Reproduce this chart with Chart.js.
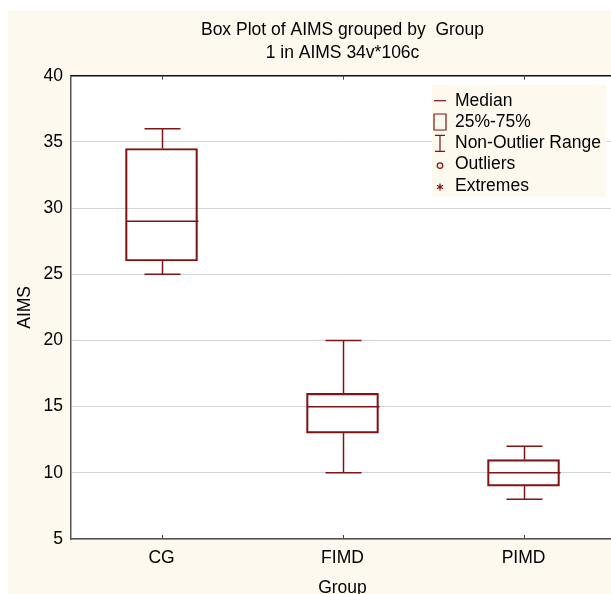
<!DOCTYPE html>
<html>
<head>
<meta charset="utf-8">
<script src="https://cdn.jsdelivr.net/npm/chart.js@4.4.1/dist/chart.umd.min.js"></script>
<style>
  html, body { margin: 0; padding: 0; background: #fff; overflow: hidden; }
  #frame { position: absolute; left: 8px; top: 11px; width: 603px; height: 583px; overflow: hidden; background: #fef9ee; }
  #box { position: relative; width: 606px; height: 592px; }
</style>
</head>
<body>
<div id="frame"><div id="box"><canvas id="myChart"></canvas></div></div>
<script>
const groups = ['CG', 'FIMD', 'PIMD'];
const minValues = [25, 10, 8];
const q1Values = [26, 13, 9];
const medianValues = [29, 15, 10];
const q3Values = [34.5, 16, 11];
const maxValues = [36, 20, 12];
const legendLabels = ['Median', '25%-75%', 'Non-Outlier Range', 'Outliers', 'Extremes'];

const boxColor = '#7f1416';
const font = 'Liberation Sans, Arial, sans-serif';
const fontSize = 17.5;

const ctx = document.getElementById('myChart').getContext('2d');

// white plot area, whiskers, medians, inward ticks, legend
const boxPlugin = {
    id: 'boxPlugin',
    beforeDraw(chart) {
        const a = chart.chartArea;
        const c = chart.ctx;
        c.save();
        c.fillStyle = '#fff';
        c.fillRect(a.left, a.top, a.right - a.left, a.bottom - a.top);
        c.restore();
    },
    afterDatasetsDraw(chart) {
        const c = chart.ctx;
        const x = chart.scales.x;
        const y = chart.scales.y;
        const a = chart.chartArea;
        c.save();
        c.strokeStyle = boxColor;
        c.lineWidth = 1.5;
        groups.forEach((g, i) => {
            const cx = Math.round(x.getPixelForValue(i)) + 0.5;
            const line = (x1, y1, x2, y2) => {
                c.beginPath(); c.moveTo(x1, y1); c.lineTo(x2, y2); c.stroke();
            };
            const yMin = y.getPixelForValue(minValues[i]);
            const yMax = y.getPixelForValue(maxValues[i]);
            const yQ1 = y.getPixelForValue(q1Values[i]);
            const yQ3 = y.getPixelForValue(q3Values[i]);
            const yMed = y.getPixelForValue(medianValues[i]);
            line(cx, yQ1, cx, yMin);
            line(cx, yQ3, cx, yMax);
            line(cx - 18, yMin, cx + 18, yMin);
            line(cx - 18, yMax, cx + 18, yMax);
            line(cx - 36, yMed, cx + 36, yMed);
        });
        // top border
        c.strokeStyle = '#111';
        c.lineWidth = 1.5;
        c.beginPath(); c.moveTo(a.left, a.top); c.lineTo(a.right, a.top); c.stroke();
        // inward ticks
        c.strokeStyle = '#444';
        c.lineWidth = 1;
        groups.forEach((g, i) => {
            const cx = Math.round(x.getPixelForValue(i)) + 0.5;
            c.beginPath(); c.moveTo(cx, a.top); c.lineTo(cx, a.top + 4); c.stroke();
            c.beginPath(); c.moveTo(cx, a.bottom); c.lineTo(cx, a.bottom - 4); c.stroke();
        });
        c.restore();
    },
    afterDraw(chart) {
        const c = chart.ctx;
        const a = chart.chartArea;
        const x0 = a.right - 182;
        const y0 = a.top + 9;
        c.save();
        c.fillStyle = '#fef9ee';
        c.fillRect(x0, y0, 174, 112);
        c.font = fontSize + 'px ' + font;
        c.textBaseline = 'middle';
        c.strokeStyle = boxColor;
        c.lineWidth = 1.2;
        legendLabels.forEach((t, k) => {
            const ty = y0 + 16 + k * 21.3;
            const sx = x0 + 8;
            c.beginPath();
            if (k === 0) {
                c.moveTo(sx - 6, ty); c.lineTo(sx + 6, ty);
            } else if (k === 1) {
                c.rect(sx - 6, ty - 8, 12, 16);
            } else if (k === 2) {
                c.moveTo(sx, ty - 8); c.lineTo(sx, ty + 8);
                c.moveTo(sx - 5, ty - 8); c.lineTo(sx + 5, ty - 8);
                c.moveTo(sx - 5, ty + 8); c.lineTo(sx + 5, ty + 8);
            } else if (k === 3) {
                c.arc(sx, ty + 1, 2.8, 0, Math.PI * 2);
            } else {
                for (let r = 0; r < 3; r++) {
                    const ang = r * Math.PI / 3 + Math.PI / 2;
                    c.moveTo(sx - 3.5 * Math.cos(ang), ty + 1 - 3.5 * Math.sin(ang));
                    c.lineTo(sx + 3.5 * Math.cos(ang), ty + 1 + 3.5 * Math.sin(ang));
                }
            }
            c.stroke();
            c.fillStyle = '#000';
            c.fillText(t, x0 + 23, ty);
        });
        c.restore();
    }
};

const data = {
    labels: groups,
    datasets: [
        {
            data: groups.map((g, i) => [q1Values[i], q3Values[i]]),
            backgroundColor: 'rgba(255,255,255,0)',
            borderColor: boxColor,
            borderWidth: 1.5,
            borderSkipped: false,
            barThickness: 72,
        },
    ],
};

const config = {
    type: 'bar',
    data: data,
    options: {
        responsive: true,
        maintainAspectRatio: false,
        animation: false,
        layout: { padding: { left: 0, right: 0, top: 0, bottom: 0 } },
        plugins: {
            legend: { display: false },
            tooltip: { enabled: false },
            title: {
                display: true,
                fullSize: false,
                text: ['Box Plot of AIMS grouped by  Group', '1 in AIMS 34v*106c'],
                color: '#000',
                font: { family: font, size: fontSize, weight: 'normal', lineHeight: 1.32 },
                padding: { top: 7.5, bottom: 11 },
            },
        },
        scales: {
            x: {
                grid: { display: false, drawTicks: false },
                border: { color: '#555', width: 1.5 },
                ticks: { color: '#000', padding: 9, font: { family: font, size: fontSize } },
                title: {
                    display: true,
                    text: 'Group',
                    color: '#000',
                    font: { family: font, size: fontSize },
                    padding: { top: 0 },
                },
            },
            y: {
                min: 5,
                max: 40,
                afterFit: (s) => { s.width = 63; },
                ticks: { stepSize: 5, color: '#000', padding: 8, font: { family: font, size: fontSize } },
                grid: { color: '#d4d4d4', drawTicks: false },
                border: { color: '#555', width: 1.5 },
                title: {
                    display: true,
                    text: 'AIMS',
                    color: '#000',
                    font: { family: font, size: fontSize },
                    padding: { top: 7, bottom: 0 },
                },
            },
        },
    },
    plugins: [boxPlugin],
};

const myChart = new Chart(ctx, config);
</script>
</body>
</html>
